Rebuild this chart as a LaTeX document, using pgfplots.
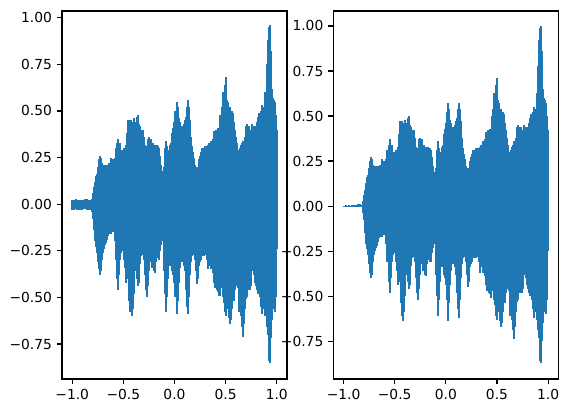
\documentclass[border=0pt]{standalone}
\usepackage{fontspec}
\setmainfont{DejaVu Sans}
\usepackage{pgfplots}
\usepackage{pgfplotstable}
\pgfplotsset{compat=1.18}
\definecolor{tabblue}{HTML}{1F77B4}

\pgfplotstableread{
x u l
-1.00 0.020 -0.030
-0.99 0.025 -0.025
-0.98 0.018 -0.032
-0.97 0.022 -0.028
-0.96 0.026 -0.022
-0.95 0.020 -0.030
-0.94 0.024 -0.027
-0.93 0.019 -0.033
-0.92 0.023 -0.026
-0.91 0.025 -0.029
-0.90 0.021 -0.031
-0.89 0.018 -0.025
-0.88 0.022 -0.028
-0.87 0.026 -0.024
-0.86 0.028 -0.030
-0.85 0.024 -0.027
-0.84 0.020 -0.032
-0.83 0.022 -0.026
-0.82 0.025 -0.030
-0.81 0.03 -0.04
-0.80 0.06 -0.08
-0.79 0.09 -0.14
-0.78 0.12 -0.20
-0.77 0.15 -0.23
-0.76 0.16 -0.26
-0.75 0.20 -0.31
-0.74 0.24 -0.35
-0.73 0.26 -0.38
-0.72 0.25 -0.36
-0.71 0.22 -0.30
-0.70 0.21 -0.26
-0.69 0.20 -0.24
-0.68 0.21 -0.22
-0.67 0.20 -0.21
-0.66 0.21 -0.19
-0.65 0.20 -0.17
-0.64 0.22 -0.16
-0.63 0.21 -0.15
-0.62 0.25 -0.16
-0.61 0.22 -0.14
-0.60 0.24 -0.15
-0.59 0.21 -0.14
-0.58 0.25 -0.20
-0.57 0.30 -0.30
-0.56 0.33 -0.40
-0.55 0.35 -0.46
-0.54 0.30 -0.38
-0.53 0.33 -0.30
-0.52 0.28 -0.26
-0.51 0.29 -0.24
-0.50 0.27 -0.25
-0.49 0.30 -0.30
-0.48 0.28 -0.34
-0.47 0.32 -0.42
-0.46 0.38 -0.40
-0.45 0.45 -0.38
-0.44 0.42 -0.52
-0.43 0.45 -0.58
-0.42 0.38 -0.60
-0.41 0.44 -0.56
-0.40 0.46 -0.48
-0.39 0.42 -0.36
-0.38 0.44 -0.35
-0.37 0.47 -0.40
-0.36 0.48 -0.44
-0.35 0.43 -0.42
-0.34 0.42 -0.32
-0.33 0.40 -0.28
-0.32 0.38 -0.27
-0.31 0.40 -0.26
-0.30 0.36 -0.30
-0.29 0.32 -0.38
-0.28 0.28 -0.46
-0.27 0.31 -0.50
-0.26 0.35 -0.44
-0.25 0.36 -0.36
-0.24 0.34 -0.30
-0.23 0.35 -0.31
-0.22 0.32 -0.34
-0.21 0.33 -0.33
-0.20 0.31 -0.36
-0.19 0.32 -0.37
-0.18 0.31 -0.31
-0.17 0.32 -0.28
-0.16 0.31 -0.29
-0.15 0.30 -0.30
-0.14 0.26 -0.25
-0.13 0.21 -0.22
-0.12 0.18 -0.20
-0.11 0.17 -0.19
-0.10 0.20 -0.36
-0.09 0.30 -0.48
-0.08 0.34 -0.58
-0.07 0.31 -0.50
-0.06 0.27 -0.40
-0.05 0.29 -0.33
-0.04 0.32 -0.32
-0.03 0.33 -0.33
-0.02 0.38 -0.36
-0.01 0.41 -0.38
0.00 0.44 -0.42
0.01 0.50 -0.50
0.02 0.55 -0.59
0.03 0.52 -0.52
0.04 0.46 -0.42
0.05 0.44 -0.34
0.06 0.40 -0.31
0.07 0.42 -0.30
0.08 0.39 -0.31
0.09 0.43 -0.33
0.10 0.45 -0.36
0.11 0.47 -0.46
0.12 0.52 -0.55
0.13 0.56 -0.59
0.14 0.52 -0.50
0.15 0.45 -0.38
0.16 0.36 -0.31
0.17 0.31 -0.28
0.18 0.28 -0.27
0.19 0.25 -0.26
0.20 0.21 -0.30
0.21 0.20 -0.36
0.22 0.19 -0.43
0.23 0.20 -0.40
0.24 0.24 -0.33
0.25 0.26 -0.31
0.26 0.28 -0.30
0.27 0.30 -0.28
0.28 0.29 -0.27
0.29 0.30 -0.28
0.30 0.31 -0.27
0.31 0.30 -0.26
0.32 0.31 -0.30
0.33 0.32 -0.35
0.34 0.33 -0.33
0.35 0.31 -0.32
0.36 0.34 -0.35
0.37 0.33 -0.34
0.38 0.35 -0.37
0.39 0.39 -0.42
0.40 0.38 -0.45
0.41 0.40 -0.43
0.42 0.39 -0.46
0.43 0.41 -0.47
0.44 0.40 -0.49
0.45 0.48 -0.44
0.46 0.52 -0.45
0.47 0.60 -0.50
0.48 0.58 -0.53
0.49 0.64 -0.58
0.50 0.68 -0.60
0.51 0.56 -0.52
0.52 0.55 -0.56
0.53 0.52 -0.61
0.54 0.52 -0.64
0.55 0.48 -0.62
0.56 0.50 -0.56
0.57 0.49 -0.48
0.58 0.44 -0.52
0.59 0.40 -0.46
0.60 0.36 -0.44
0.61 0.33 -0.40
0.62 0.29 -0.45
0.63 0.28 -0.58
0.64 0.30 -0.56
0.65 0.32 -0.60
0.66 0.33 -0.66
0.67 0.34 -0.71
0.68 0.33 -0.64
0.69 0.36 -0.56
0.70 0.42 -0.51
0.71 0.43 -0.50
0.72 0.41 -0.46
0.73 0.42 -0.44
0.74 0.38 -0.46
0.75 0.40 -0.44
0.76 0.43 -0.36
0.77 0.42 -0.33
0.78 0.40 -0.38
0.79 0.42 -0.42
0.80 0.41 -0.44
0.81 0.44 -0.46
0.82 0.47 -0.48
0.83 0.49 -0.47
0.84 0.45 -0.50
0.85 0.50 -0.55
0.86 0.53 -0.59
0.87 0.52 -0.56
0.88 0.50 -0.50
0.89 0.60 -0.60
0.90 0.75 -0.66
0.91 0.88 -0.70
0.92 0.95 -0.84
0.93 0.96 -0.85
0.94 0.82 -0.72
0.95 0.62 -0.62
0.96 0.57 -0.56
0.97 0.56 -0.55
0.98 0.55 -0.58
0.99 0.48 -0.50
1.00 0.40 -0.24
}\lefttab

\pgfplotstableread{
x u l
-1.00 0.003 -0.003
-0.99 0.003 -0.003
-0.98 0.004 -0.003
-0.97 0.003 -0.004
-0.96 0.003 -0.003
-0.95 0.004 -0.003
-0.94 0.003 -0.003
-0.93 0.003 -0.004
-0.92 0.004 -0.003
-0.91 0.003 -0.003
-0.90 0.004 -0.004
-0.89 0.003 -0.003
-0.88 0.005 -0.004
-0.87 0.008 -0.006
-0.86 0.010 -0.006
-0.85 0.008 -0.005
-0.84 0.009 -0.006
-0.83 0.006 -0.004
-0.82 0.008 -0.005
-0.81 0.03 -0.04
-0.80 0.06 -0.08
-0.79 0.09 -0.15
-0.78 0.13 -0.21
-0.77 0.16 -0.24
-0.76 0.17 -0.27
-0.75 0.21 -0.32
-0.74 0.25 -0.37
-0.73 0.27 -0.40
-0.72 0.26 -0.38
-0.71 0.23 -0.31
-0.70 0.22 -0.27
-0.69 0.21 -0.25
-0.68 0.22 -0.23
-0.67 0.21 -0.22
-0.66 0.22 -0.20
-0.65 0.21 -0.18
-0.64 0.23 -0.17
-0.63 0.22 -0.16
-0.62 0.26 -0.17
-0.61 0.23 -0.15
-0.60 0.25 -0.16
-0.59 0.22 -0.15
-0.58 0.26 -0.21
-0.57 0.31 -0.31
-0.56 0.34 -0.42
-0.55 0.37 -0.48
-0.54 0.31 -0.40
-0.53 0.34 -0.31
-0.52 0.29 -0.27
-0.51 0.30 -0.25
-0.50 0.28 -0.26
-0.49 0.31 -0.31
-0.48 0.29 -0.36
-0.47 0.33 -0.44
-0.46 0.40 -0.42
-0.45 0.47 -0.40
-0.44 0.44 -0.54
-0.43 0.47 -0.61
-0.42 0.40 -0.64
-0.41 0.46 -0.59
-0.40 0.48 -0.50
-0.39 0.44 -0.38
-0.38 0.46 -0.37
-0.37 0.49 -0.42
-0.36 0.50 -0.46
-0.35 0.45 -0.44
-0.34 0.44 -0.33
-0.33 0.42 -0.29
-0.32 0.40 -0.28
-0.31 0.42 -0.27
-0.30 0.38 -0.31
-0.29 0.33 -0.40
-0.28 0.29 -0.48
-0.27 0.32 -0.52
-0.26 0.37 -0.46
-0.25 0.38 -0.38
-0.24 0.36 -0.31
-0.23 0.37 -0.32
-0.22 0.33 -0.36
-0.21 0.34 -0.34
-0.20 0.32 -0.38
-0.19 0.33 -0.39
-0.18 0.32 -0.32
-0.17 0.33 -0.29
-0.16 0.32 -0.30
-0.15 0.31 -0.31
-0.14 0.27 -0.26
-0.13 0.22 -0.23
-0.12 0.19 -0.21
-0.11 0.18 -0.20
-0.10 0.21 -0.38
-0.09 0.31 -0.50
-0.08 0.36 -0.61
-0.07 0.32 -0.52
-0.06 0.28 -0.42
-0.05 0.30 -0.34
-0.04 0.33 -0.33
-0.03 0.34 -0.34
-0.02 0.40 -0.38
-0.01 0.43 -0.40
0.00 0.46 -0.44
0.01 0.52 -0.52
0.02 0.57 -0.64
0.03 0.54 -0.54
0.04 0.48 -0.44
0.05 0.46 -0.36
0.06 0.42 -0.32
0.07 0.44 -0.31
0.08 0.41 -0.32
0.09 0.45 -0.34
0.10 0.47 -0.38
0.11 0.49 -0.48
0.12 0.54 -0.57
0.13 0.57 -0.62
0.14 0.54 -0.52
0.15 0.47 -0.40
0.16 0.38 -0.32
0.17 0.32 -0.29
0.18 0.29 -0.28
0.19 0.26 -0.27
0.20 0.22 -0.31
0.21 0.21 -0.38
0.22 0.20 -0.45
0.23 0.21 -0.42
0.24 0.25 -0.34
0.25 0.27 -0.32
0.26 0.29 -0.31
0.27 0.31 -0.29
0.28 0.30 -0.28
0.29 0.31 -0.29
0.30 0.32 -0.28
0.31 0.31 -0.27
0.32 0.32 -0.31
0.33 0.33 -0.37
0.34 0.34 -0.34
0.35 0.32 -0.33
0.36 0.36 -0.37
0.37 0.34 -0.36
0.38 0.37 -0.39
0.39 0.41 -0.44
0.40 0.40 -0.47
0.41 0.42 -0.45
0.42 0.41 -0.48
0.43 0.43 -0.49
0.44 0.42 -0.51
0.45 0.50 -0.46
0.46 0.54 -0.47
0.47 0.63 -0.52
0.48 0.61 -0.55
0.49 0.67 -0.61
0.50 0.71 -0.63
0.51 0.59 -0.54
0.52 0.57 -0.59
0.53 0.54 -0.64
0.54 0.54 -0.67
0.55 0.50 -0.65
0.56 0.52 -0.59
0.57 0.51 -0.50
0.58 0.46 -0.54
0.59 0.42 -0.48
0.60 0.38 -0.46
0.61 0.34 -0.42
0.62 0.30 -0.47
0.63 0.29 -0.61
0.64 0.31 -0.59
0.65 0.33 -0.63
0.66 0.34 -0.69
0.67 0.36 -0.74
0.68 0.34 -0.67
0.69 0.38 -0.59
0.70 0.44 -0.53
0.71 0.45 -0.52
0.72 0.43 -0.48
0.73 0.44 -0.46
0.74 0.40 -0.48
0.75 0.42 -0.46
0.76 0.45 -0.38
0.77 0.44 -0.34
0.78 0.42 -0.40
0.79 0.44 -0.44
0.80 0.43 -0.46
0.81 0.46 -0.48
0.82 0.49 -0.50
0.83 0.51 -0.49
0.84 0.47 -0.52
0.85 0.52 -0.57
0.86 0.55 -0.62
0.87 0.54 -0.59
0.88 0.52 -0.52
0.89 0.63 -0.63
0.90 0.78 -0.69
0.91 0.92 -0.73
0.92 0.99 -0.86
0.93 1.00 -0.87
0.94 0.86 -0.75
0.95 0.65 -0.65
0.96 0.60 -0.59
0.97 0.59 -0.58
0.98 0.57 -0.60
0.99 0.50 -0.52
1.00 0.42 -0.25
}\righttab

\pgfplotsset{
  wave/.style={
    scale only axis, width=162bp, height=264.96bp,
    anchor=south west,
    xmin=-1.1, xmax=1.1,
    axis line style={line width=0.8bp, black},
    every tick/.style={line width=0.8bp, black},
    major tick length=3.5bp,
    tick align=outside,
    tick pos=left,
    xtick={-1,-0.5,0,0.5,1},
    xticklabels={−1.0,−0.5,0.0,0.5,1.0},
    ytick={-0.75,-0.5,-0.25,0,0.25,0.5,0.75,1},
    yticklabels={−0.75,−0.50,−0.25,0.00,0.25,0.50,0.75,1.00},
    tick label style={font=\fontsize{10}{12}\selectfont, inner sep=0pt, text=black},
    yticklabel style={xshift=-3.5bp},
    xticklabel style={yshift=-3.5bp},
    clip=true,
  },
  comb/.style={ycomb, tabblue, line width=1.5bp, mark=none},
}

\begin{document}
\begin{tikzpicture}
\useasboundingbox (0,0) rectangle (408.96bp,297.36bp);
\begin{axis}[wave, at={(44.64bp,24.48bp)}, ymin=-0.9375, ymax=1.036]
  \addplot[comb] table[x=x,y=u] {\lefttab};
  \addplot[comb] table[x=x,y=l] {\lefttab};
\end{axis}
\begin{axis}[wave, at={(240bp,24.48bp)}, ymin=-0.96, ymax=1.083]
  \addplot[comb] table[x=x,y=u] {\righttab};
  \addplot[comb] table[x=x,y=l] {\righttab};
\end{axis}
\end{tikzpicture}
\end{document}
